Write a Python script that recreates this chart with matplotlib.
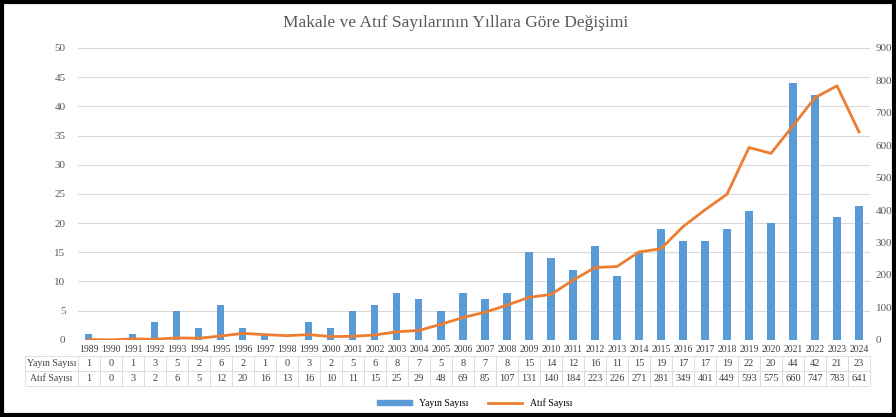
import numpy as np
import matplotlib.pyplot as plt
from matplotlib.patches import Rectangle
from matplotlib.lines import Line2D

# veri
years = [str(y) for y in range(1989, 2025)]
yayin = [1, 0, 1, 3, 5, 2, 6, 2, 1, 0, 3, 2, 5, 6, 8, 7, 5, 8, 7, 8,
         15, 14, 12, 16, 11, 15, 19, 17, 17, 19, 22, 20, 44, 42, 21, 23]
atif = [1, 0, 3, 2, 6, 5, 12, 20, 16, 13, 16, 10, 11, 15, 25, 29, 48, 69, 85, 107,
        131, 140, 184, 223, 226, 271, 281, 349, 401, 449, 593, 575, 660, 747, 783, 641]
row_labels = ['Yayın Sayısı', 'Atıf Sayısı']
left_ticks = list(range(0, 55, 5))
right_ticks = list(range(0, 1000, 100))

plt.rcParams['font.family'] = ['Liberation Serif', 'DejaVu Serif']

blue = '#5B9BD5'
orange = '#ED7D31'
gray = '#595959'

fig = plt.figure(figsize=(8.96, 4.17), dpi=100)
ax = fig.add_axes([0.087, 0.185, 0.884, 0.700])
x = np.arange(len(years))

ax.bar(x, yayin, width=0.32, color=blue, zorder=3)
ax.set_xlim(-0.5, len(years) - 0.5)
ax.set_ylim(0, 50)
ax.set_yticks(left_ticks)
ax.set_xticks([])
ax.grid(axis='y', color='#D9D9D9', linewidth=0.8, zorder=0)
ax.tick_params(axis='y', length=0, labelsize=8, labelcolor=gray, pad=9)
for s in ax.spines.values():
    s.set_visible(False)

ax2 = ax.twinx()
ax2.plot(x, atif, color=orange, linewidth=2, zorder=4)
ax2.set_ylim(0, 900)
ax2.set_yticks(right_ticks)
ax2.tick_params(axis='y', length=0, labelsize=8, labelcolor=gray, pad=4)
for s in ax2.spines.values():
    s.set_visible(False)

# tablo
cells = [[''] + years,
         [row_labels[0]] + [str(v) for v in yayin],
         [row_labels[1]] + [str(v) for v in atif]]
lab_w = 53 / 792
tbl = ax.table(cellText=cells, cellLoc='center',
               bbox=[-lab_w, -0.158, 1 + lab_w, 0.152])
tbl.auto_set_font_size(False)
for (r, c), cell in tbl.get_celld().items():
    cell.set_edgecolor('#D9D9D9')
    cell.set_linewidth(0.6)
    cell.get_text().set_fontsize(7.5)
    cell.get_text().set_color('#404040')
    if c == 0:
        cell.set_width(lab_w)
        cell.get_text().set_fontsize(7)
    else:
        cell.set_width(1 / len(years))
    if r == 0:
        cell.visible_edges = ''
        cell.get_text().set_fontsize(7)

fig.text(0.509, 0.945, 'Makale ve Atıf Sayılarının Yıllara Göre Değişimi',
         fontsize=12.5, color=gray, ha='center', va='center')

handles = [Rectangle((0, 0), 1, 1, color=blue), Line2D([], [], color=orange, linewidth=2)]
fig.legend(handles, row_labels, loc='center', bbox_to_anchor=(0.53, 0.034), ncol=2,
           frameon=False, fontsize=7, handlelength=3.5, handleheight=0.4, columnspacing=2)

fig.patches.append(Rectangle((0.002, 0.005), 0.996, 0.99, transform=fig.transFigure,
                             fill=False, edgecolor='black', linewidth=3))

fig.savefig('out.png', dpi=100)
